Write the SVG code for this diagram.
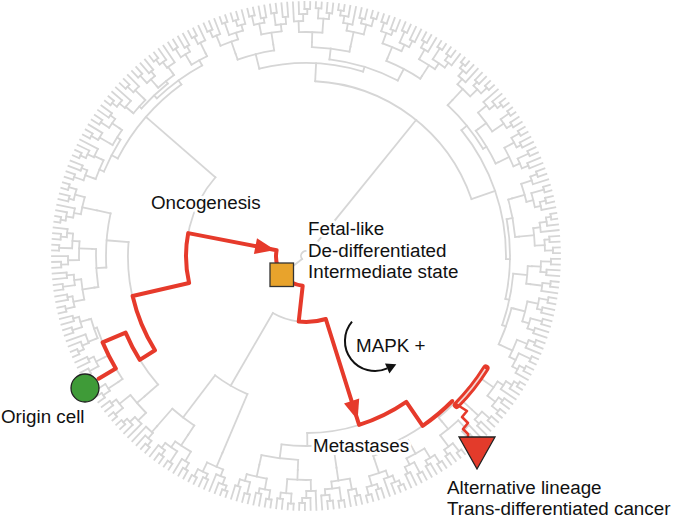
<svg xmlns="http://www.w3.org/2000/svg" width="675" height="518" viewBox="0 0 675 518">
<style>
.tree{fill:none;stroke:#d6d6d6;stroke-width:1.8;stroke-linecap:square}
.red{fill:none;stroke:#e63a2b;stroke-width:4;stroke-linejoin:round;stroke-linecap:round}
.redf{fill:#e63a2b;stroke:none}
.lbl{font-family:"Liberation Sans",Arial,sans-serif;font-size:18.8px;fill:#111;paint-order:stroke;stroke:#fff;stroke-width:6px;stroke-linejoin:round}
</style>
<defs>
<g id="a8">
<path d="M246 0H254" transform="rotate(-4.55)"/><path d="M246 0H254" transform="rotate(-3.25)"/>
<path d="M242 0H254" transform="rotate(-1.95)"/><path d="M242 0H254" transform="rotate(-0.65)"/>
<path d="M245 0H254" transform="rotate(0.65)"/><path d="M245 0H254" transform="rotate(1.95)"/>
<path d="M240 0H254" transform="rotate(3.25)"/><path d="M240 0H254" transform="rotate(4.55)"/>
<path d="M237 0H246" transform="rotate(-3.9)"/><path d="M237 0H242" transform="rotate(-1.3)"/>
<path d="M233 0H245" transform="rotate(1.3)"/><path d="M233 0H240" transform="rotate(3.9)"/>
<path d="M226 0H237" transform="rotate(-2.6)"/><path d="M226 0H233" transform="rotate(2.6)"/>
<path d="M214 0H226"/>
<circle r="246" pathLength="360" stroke-dasharray="1.3 360" transform="rotate(-4.55)"/>
<circle r="242" pathLength="360" stroke-dasharray="1.3 360" transform="rotate(-1.95)"/>
<circle r="237" pathLength="360" stroke-dasharray="2.6 360" transform="rotate(-3.9)"/>
<circle r="245" pathLength="360" stroke-dasharray="1.3 360" transform="rotate(0.65)"/>
<circle r="240" pathLength="360" stroke-dasharray="1.3 360" transform="rotate(3.25)"/>
<circle r="233" pathLength="360" stroke-dasharray="2.6 360" transform="rotate(1.3)"/>
<circle r="226" pathLength="360" stroke-dasharray="5.2 360" transform="rotate(-2.6)"/>
</g>
<g id="b8">
<path d="M248 0H254" transform="rotate(-4.55)"/><path d="M248 0H254" transform="rotate(-3.25)"/>
<path d="M243 0H254" transform="rotate(-1.95)"/><path d="M236 0H254" transform="rotate(-0.65)"/>
<path d="M244 0H254" transform="rotate(0.65)"/><path d="M244 0H254" transform="rotate(1.95)"/>
<path d="M247 0H254" transform="rotate(3.25)"/><path d="M247 0H254" transform="rotate(4.55)"/>
<path d="M243 0H248" transform="rotate(-3.9)"/><path d="M236 0H243" transform="rotate(-2.925)"/>
<path d="M239 0H244" transform="rotate(1.3)"/><path d="M239 0H247" transform="rotate(3.9)"/>
<path d="M229 0H236" transform="rotate(-1.79)"/><path d="M229 0H239" transform="rotate(2.6)"/>
<path d="M214 0H229"/>
<circle r="248" pathLength="360" stroke-dasharray="1.3 360" transform="rotate(-4.55)"/>
<circle r="243" pathLength="360" stroke-dasharray="1.95 360" transform="rotate(-3.9)"/>
<circle r="236" pathLength="360" stroke-dasharray="2.275 360" transform="rotate(-2.925)"/>
<circle r="244" pathLength="360" stroke-dasharray="1.3 360" transform="rotate(0.65)"/>
<circle r="247" pathLength="360" stroke-dasharray="1.3 360" transform="rotate(3.25)"/>
<circle r="239" pathLength="360" stroke-dasharray="2.6 360" transform="rotate(1.3)"/>
<circle r="229" pathLength="360" stroke-dasharray="4.39 360" transform="rotate(-1.79)"/>
</g>
<g id="c8">
<path d="M245 0H254" transform="rotate(-4.55)"/><path d="M245 0H254" transform="rotate(-3.25)"/>
<path d="M238 0H254" transform="rotate(-1.95)"/><path d="M247 0H254" transform="rotate(-0.65)"/>
<path d="M247 0H254" transform="rotate(0.65)"/><path d="M246 0H254" transform="rotate(1.95)"/>
<path d="M246 0H254" transform="rotate(3.25)"/><path d="M240 0H254" transform="rotate(4.55)"/>
<path d="M238 0H245" transform="rotate(-3.9)"/><path d="M234 0H247"/>
<path d="M240 0H246" transform="rotate(2.6)"/><path d="M234 0H240" transform="rotate(3.575)"/>
<path d="M227 0H238" transform="rotate(-2.925)"/><path d="M227 0H234" transform="rotate(1.79)"/>
<path d="M214 0H227"/>
<circle r="245" pathLength="360" stroke-dasharray="1.3 360" transform="rotate(-4.55)"/>
<circle r="238" pathLength="360" stroke-dasharray="1.95 360" transform="rotate(-3.9)"/>
<circle r="247" pathLength="360" stroke-dasharray="1.3 360" transform="rotate(-0.65)"/>
<circle r="246" pathLength="360" stroke-dasharray="1.3 360" transform="rotate(1.95)"/>
<circle r="240" pathLength="360" stroke-dasharray="1.95 360" transform="rotate(2.6)"/>
<circle r="234" pathLength="360" stroke-dasharray="3.575 360"/>
<circle r="227" pathLength="360" stroke-dasharray="4.715 360" transform="rotate(-2.925)"/>
</g>
<g id="d8">
<path d="M235 0H254" transform="rotate(-4.55)"/><path d="M242 0H254" transform="rotate(-3.25)"/>
<path d="M247 0H254" transform="rotate(-1.95)"/><path d="M247 0H254" transform="rotate(-0.65)"/>
<path d="M248 0H254" transform="rotate(0.65)"/><path d="M248 0H254" transform="rotate(1.95)"/>
<path d="M244 0H254" transform="rotate(3.25)"/><path d="M244 0H254" transform="rotate(4.55)"/>
<path d="M242 0H247" transform="rotate(-1.3)"/><path d="M235 0H242" transform="rotate(-2.275)"/>
<path d="M238 0H248" transform="rotate(1.3)"/><path d="M238 0H244" transform="rotate(3.9)"/>
<path d="M224 0H235" transform="rotate(-3.41)"/><path d="M224 0H238" transform="rotate(2.6)"/>
<path d="M214 0H224"/>
<circle r="247" pathLength="360" stroke-dasharray="1.3 360" transform="rotate(-1.95)"/>
<circle r="242" pathLength="360" stroke-dasharray="1.95 360" transform="rotate(-3.25)"/>
<circle r="235" pathLength="360" stroke-dasharray="2.275 360" transform="rotate(-4.55)"/>
<circle r="248" pathLength="360" stroke-dasharray="1.3 360" transform="rotate(0.65)"/>
<circle r="244" pathLength="360" stroke-dasharray="1.3 360" transform="rotate(3.25)"/>
<circle r="238" pathLength="360" stroke-dasharray="2.6 360" transform="rotate(1.3)"/>
<circle r="224" pathLength="360" stroke-dasharray="6.01 360" transform="rotate(-3.41)"/>
</g>
<g id="a4">
<path d="M245 0H254" transform="rotate(-1.95)"/><path d="M245 0H254" transform="rotate(-0.65)"/>
<path d="M241 0H254" transform="rotate(0.65)"/><path d="M241 0H254" transform="rotate(1.95)"/>
<path d="M235 0H245" transform="rotate(-1.3)"/><path d="M235 0H241" transform="rotate(1.3)"/>
<path d="M226 0H235"/>
<circle r="245" pathLength="360" stroke-dasharray="1.3 360" transform="rotate(-1.95)"/>
<circle r="241" pathLength="360" stroke-dasharray="1.3 360" transform="rotate(0.65)"/>
<circle r="235" pathLength="360" stroke-dasharray="2.6 360" transform="rotate(-1.3)"/>
</g>
<g id="b4">
<path d="M247 0H254" transform="rotate(-1.95)"/><path d="M247 0H254" transform="rotate(-0.65)"/>
<path d="M241 0H254" transform="rotate(0.65)"/><path d="M234 0H254" transform="rotate(1.95)"/>
<path d="M241 0H247" transform="rotate(-1.3)"/><path d="M234 0H241" transform="rotate(-0.325)"/>
<path d="M226 0H234"/>
<circle r="247" pathLength="360" stroke-dasharray="1.3 360" transform="rotate(-1.95)"/>
<circle r="241" pathLength="360" stroke-dasharray="1.95 360" transform="rotate(-1.3)"/>
<circle r="234" pathLength="360" stroke-dasharray="2.275 360" transform="rotate(-0.325)"/>
</g>
<g id="a3">
<path d="M246 0H254" transform="rotate(-1.3)"/><path d="M246 0H254"/>
<path d="M238 0H254" transform="rotate(1.3)"/>
<path d="M238 0H246" transform="rotate(-0.65)"/><path d="M226 0H238"/>
<circle r="246" pathLength="360" stroke-dasharray="1.3 360" transform="rotate(-1.3)"/>
<circle r="238" pathLength="360" stroke-dasharray="1.95 360" transform="rotate(-0.65)"/>
</g>
</defs>
<rect width="675" height="518" fill="#fff"/>
<g id="tree" class="tree" transform="translate(306 256)">
<circle r="5" pathLength="360" stroke-dasharray="167 360" transform="rotate(142)"/>
<path d="M5 0H30" transform="rotate(142)"/>
<path d="M5 0H175" transform="rotate(309)"/>
<circle r="30" pathLength="360" stroke-dasharray="94.65 360" transform="rotate(96.35)"/>
<path d="M30 0H66" transform="rotate(96.35)"/>
<circle r="66" pathLength="360" stroke-dasharray="47.6 360" transform="rotate(72.55)"/>
<path d="M66 0H177" transform="rotate(72.55)"/>
<circle r="177" pathLength="360" stroke-dasharray="34.1 360" transform="rotate(55.5)"/>
<path d="M177 0H206" transform="rotate(55.5)"/>
<circle r="206" pathLength="360" stroke-dasharray="21.45 360" transform="rotate(44.75)"/>
<path d="M206 0H211" transform="rotate(66.2)"/>
<circle r="211" pathLength="360" stroke-dasharray="10.4 360" transform="rotate(61)"/>
<path d="M211 0H214" transform="rotate(61)"/><path d="M211 0H214" transform="rotate(71.4)"/>
<path d="M206 0H209" transform="rotate(44.75)"/>
<circle r="209" pathLength="360" stroke-dasharray="11.7 360" transform="rotate(38.9)"/>
<path d="M209 0H214" transform="rotate(50.6)"/>
<path d="M209 0H212" transform="rotate(38.9)"/>
<circle r="212" pathLength="360" stroke-dasharray="7.8 360" transform="rotate(35)"/>
<path d="M212 0H214" transform="rotate(35)"/><path d="M212 0H226" transform="rotate(42.8)"/>
<path d="M177 0H190" transform="rotate(89.6)"/>
<circle r="190" pathLength="360" stroke-dasharray="15.6 360" transform="rotate(81.8)"/>
<path d="M190 0H214" transform="rotate(81.8)"/>
<path d="M190 0H204" transform="rotate(97.4)"/>
<circle r="204" pathLength="360" stroke-dasharray="10.4 360" transform="rotate(92.2)"/>
<path d="M204 0H214" transform="rotate(92.2)"/><path d="M204 0H214" transform="rotate(102.6)"/>
<path d="M66 0H150" transform="rotate(120.15)"/>
<circle r="150" pathLength="360" stroke-dasharray="14.3 360" transform="rotate(113)"/>
<path d="M150 0H214" transform="rotate(113)"/>
<path d="M150 0H203" transform="rotate(127.3)"/>
<circle r="203" pathLength="360" stroke-dasharray="7.8 360" transform="rotate(123.4)"/>
<path d="M203 0H214" transform="rotate(123.4)"/><path d="M203 0H226" transform="rotate(131.2)"/>
<path d="M30 0H120" transform="rotate(191)"/>
<circle r="120" pathLength="360" stroke-dasharray="54 360" transform="rotate(167)"/>
<path d="M120 0H178" transform="rotate(167)"/>
<circle r="178" pathLength="360" stroke-dasharray="36.5 360" transform="rotate(148)"/>
<path d="M178 0H196" transform="rotate(148)"/>
<circle r="196" pathLength="360" stroke-dasharray="18 360" transform="rotate(139)"/>
<path d="M196 0H214" transform="rotate(139)"/>
<path d="M196 0H221" transform="rotate(157)"/>
<circle r="221" pathLength="360" stroke-dasharray="14.95 360" transform="rotate(146.15)"/>
<path d="M221 0H226" transform="rotate(146.15)"/><path d="M221 0H254" transform="rotate(149.4)"/>
<path d="M221 0H226" transform="rotate(153.3)"/><path d="M221 0H224" transform="rotate(161.1)"/>
<circle r="224" pathLength="360" stroke-dasharray="5.2 360" transform="rotate(158.5)"/>
<path d="M224 0H226" transform="rotate(158.5)"/><path d="M224 0H226" transform="rotate(163.7)"/>
<path d="M178 0H200" transform="rotate(184.5)"/>
<circle r="200" pathLength="360" stroke-dasharray="15.6 360" transform="rotate(176.7)"/>
<path d="M200 0H210" transform="rotate(176.7)"/>
<circle r="210" pathLength="360" stroke-dasharray="10.4 360" transform="rotate(171.5)"/>
<path d="M210 0H214" transform="rotate(171.5)"/><path d="M210 0H214" transform="rotate(181.9)"/>
<path d="M200 0H214" transform="rotate(192.3)"/>
<path d="M120 0H212" transform="rotate(221)"/>
<circle r="212" pathLength="360" stroke-dasharray="26.6 360" transform="rotate(207.4)"/>
<path d="M212 0H219" transform="rotate(207.4)"/>
<circle r="219" pathLength="360" stroke-dasharray="9.4 360" transform="rotate(202.7)"/>
<path d="M219 0H224" transform="rotate(202.7)"/>
<circle r="224" pathLength="360" stroke-dasharray="5.2 360" transform="rotate(200.1)"/>
<path d="M224 0H226" transform="rotate(200.1)"/><path d="M224 0H226" transform="rotate(205.3)"/>
<path d="M219 0H223" transform="rotate(212.1)"/>
<circle r="223" pathLength="360" stroke-dasharray="4.55 360" transform="rotate(209.85)"/>
<path d="M223 0H226" transform="rotate(209.85)"/><path d="M223 0H226" transform="rotate(214.4)"/>
<path d="M212 0H217" transform="rotate(234)"/>
<circle r="217" pathLength="360" stroke-dasharray="14.8 360" transform="rotate(226.6)"/>
<path d="M217 0H221" transform="rotate(226.6)"/>
<circle r="221" pathLength="360" stroke-dasharray="9.4 360" transform="rotate(221.9)"/>
<path d="M221 0H224" transform="rotate(221.9)"/>
<circle r="224" pathLength="360" stroke-dasharray="4.55 360" transform="rotate(219.6)"/>
<path d="M224 0H226" transform="rotate(219.6)"/><path d="M224 0H226" transform="rotate(224.15)"/>
<path d="M221 0H224" transform="rotate(231.3)"/>
<circle r="224" pathLength="360" stroke-dasharray="5.2 360" transform="rotate(228.7)"/>
<path d="M224 0H226" transform="rotate(228.7)"/><path d="M224 0H226" transform="rotate(233.9)"/>
<path d="M217 0H223" transform="rotate(241.4)"/>
<circle r="223" pathLength="360" stroke-dasharray="4.55 360" transform="rotate(239.1)"/>
<path d="M223 0H226" transform="rotate(239.1)"/><path d="M223 0H226" transform="rotate(243.65)"/>
<circle r="175" pathLength="360" stroke-dasharray="68 360" transform="rotate(273)"/>
<path d="M175 0H193" transform="rotate(273)"/>
<circle r="193" pathLength="360" stroke-dasharray="31.2 360" transform="rotate(256)"/>
<path d="M193 0H208" transform="rotate(256)"/>
<circle r="208" pathLength="360" stroke-dasharray="10.4 360" transform="rotate(250.8)"/>
<path d="M208 0H214" transform="rotate(250.8)"/><path d="M208 0H214" transform="rotate(261.2)"/>
<path d="M193 0H198" transform="rotate(287.2)"/>
<circle r="198" pathLength="360" stroke-dasharray="20.8 360" transform="rotate(276.8)"/>
<path d="M198 0H209" transform="rotate(276.8)"/>
<circle r="209" pathLength="360" stroke-dasharray="10.4 360" transform="rotate(271.6)"/>
<path d="M209 0H214" transform="rotate(271.6)"/><path d="M209 0H214" transform="rotate(282)"/>
<path d="M198 0H211" transform="rotate(297.6)"/>
<circle r="211" pathLength="360" stroke-dasharray="10.4 360" transform="rotate(292.4)"/>
<path d="M211 0H214" transform="rotate(292.4)"/><path d="M211 0H214" transform="rotate(302.8)"/>
<path d="M175 0H200" transform="rotate(341)"/>
<circle r="200" pathLength="360" stroke-dasharray="39.9 360" transform="rotate(321)"/>
<path d="M200 0H207" transform="rotate(321)"/>
<circle r="207" pathLength="360" stroke-dasharray="15.6 360" transform="rotate(313.2)"/>
<path d="M207 0H214" transform="rotate(313.2)"/>
<path d="M207 0H211" transform="rotate(328.8)"/>
<circle r="211" pathLength="360" stroke-dasharray="10.4 360" transform="rotate(323.6)"/>
<path d="M211 0H214" transform="rotate(323.6)"/><path d="M211 0H214" transform="rotate(334)"/>
<path d="M200 0H204" transform="rotate(360.9)"/>
<circle r="204" pathLength="360" stroke-dasharray="22.55 360" transform="rotate(349.6)"/>
<path d="M204 0H210" transform="rotate(349.6)"/>
<circle r="210" pathLength="360" stroke-dasharray="10.4 360" transform="rotate(344.4)"/>
<path d="M210 0H214" transform="rotate(344.4)"/><path d="M210 0H214" transform="rotate(354.8)"/>
<path d="M204 0H208" transform="rotate(372.15)"/>
<circle r="208" pathLength="360" stroke-dasharray="14.5 360" transform="rotate(364.9)"/>
<path d="M208 0H222" transform="rotate(364.9)"/>
<circle r="222" pathLength="360" stroke-dasharray="4.55 360" transform="rotate(362.6)"/>
<path d="M222 0H226" transform="rotate(362.6)"/><path d="M222 0H226" transform="rotate(367.15)"/>
<path d="M208 0H212" transform="rotate(379.4)"/>
<circle r="212" pathLength="360" stroke-dasharray="10.4 360" transform="rotate(374.2)"/>
<path d="M212 0H214" transform="rotate(374.2)"/><path d="M212 0H214" transform="rotate(384.6)"/>
<use href="#a8" transform="rotate(14.2)"/><use href="#c8" transform="rotate(24.6)"/>
<use href="#b8" transform="rotate(35)"/><use href="#a4" transform="rotate(42.8)"/>
<use href="#d8" transform="rotate(50.6)"/><use href="#a8" transform="rotate(61)"/>
<use href="#b8" transform="rotate(71.4)"/><use href="#c8" transform="rotate(81.8)"/>
<use href="#d8" transform="rotate(92.2)"/><use href="#a8" transform="rotate(102.6)"/>
<use href="#b8" transform="rotate(113)"/><use href="#c8" transform="rotate(123.4)"/>
<use href="#b4" transform="rotate(131.2)"/>
<use href="#d8" transform="rotate(139)"/><use href="#a3" transform="rotate(146.15)"/>
<use href="#a4" transform="rotate(153.3)"/><use href="#b4" transform="rotate(158.5)"/>
<use href="#a4" transform="rotate(163.7)"/><use href="#a8" transform="rotate(171.5)"/>
<use href="#c8" transform="rotate(181.9)"/><use href="#b8" transform="rotate(192.3)"/>
<use href="#a4" transform="rotate(200.1)"/><use href="#b4" transform="rotate(205.3)"/>
<use href="#a3" transform="rotate(209.85)"/><use href="#a4" transform="rotate(214.4)"/>
<use href="#b4" transform="rotate(219.6)"/><use href="#a3" transform="rotate(224.15)"/>
<use href="#a4" transform="rotate(228.7)"/><use href="#b4" transform="rotate(233.9)"/>
<use href="#a4" transform="rotate(239.1)"/><use href="#a3" transform="rotate(243.65)"/>
<use href="#c8" transform="rotate(250.8)"/><use href="#a8" transform="rotate(261.2)"/>
<use href="#d8" transform="rotate(271.6)"/><use href="#b8" transform="rotate(282)"/>
<use href="#a8" transform="rotate(292.4)"/><use href="#c8" transform="rotate(302.8)"/>
<use href="#b8" transform="rotate(313.2)"/><use href="#d8" transform="rotate(323.6)"/>
<use href="#a8" transform="rotate(334)"/><use href="#c8" transform="rotate(344.4)"/>
<use href="#b8" transform="rotate(354.8)"/><use href="#a4" transform="rotate(362.6)"/>
<use href="#a3" transform="rotate(367.15)"/>
</g>
<g id="connectors">
<path class="red" d="M98.6 378.7L115.8 368.5A221 221 0 0 1 102.6 342.4L125.6 332.6A196 196 0 0 0 139.8 359.9L155 350.3A178 178 0 0 1 132.6 296L189.1 283A120 120 0 0 1 188.2 233.1L276.6 250.3A30 30 0 0 0 282.4 274.5"/>
<polygon class="redf" points="275.1,250 253.9,254 257,238.3"/>
<path class="red" d="M282.4 274.5A30 30 0 0 0 302.7 285.8L298.7 321.6A66 66 0 0 0 325.8 319L359.1 424.9A177 177 0 0 0 406.3 401.9L422.7 425.8A206 206 0 0 0 452.3 401"/>
<polygon class="redf" points="357.6,420.1 344,403.4 359.2,398.6"/>
<path d="M456.6 405.2A212 212 0 0 0 485.8 368.3" fill="none" stroke="#e63a2b" stroke-width="7.5" stroke-linecap="round"/>
<path d="M457.5 404.2A212 212 0 0 0 485.3 369" fill="none" stroke="#f4d6d2" stroke-width="1.6"/>
<path d="M456 404L467 411L462 417L468 423L463 429L468 434L468 440" fill="none" stroke="#e63a2b" stroke-width="2.6" stroke-linejoin="round"/>
<path d="M352 321.7A30 30 0 0 0 387.2 368.4" fill="none" stroke="#111" stroke-width="2"/>
<polygon points="396.3,364.3 389.4,373.4 385,363.4" fill="#111"/>
</g>
<g id="node-origin">
<circle cx="85" cy="388" r="14" fill="#3f9b38" stroke="#222" stroke-width="1.3"/>
<text class="lbl" x="1" y="423">Origin cell</text>
</g>
<g id="node-intermediate">
<rect x="270" y="263" width="23.5" height="23.5" fill="#e8a32c" stroke="#333" stroke-width="1.3"/>
<text class="lbl" x="308" y="235">Fetal-like</text>
<text class="lbl" x="308" y="256.5">De-differentiated</text>
<text class="lbl" x="308" y="278">Intermediate state</text>
</g>
<g id="node-alternative">
<polygon points="459,437 495,437 477,469" fill="#e33b2b" stroke="#222" stroke-width="1.3"/>
<text class="lbl" x="447" y="494">Alternative lineage</text>
<text class="lbl" x="447" y="515">Trans-differentiated cancer</text>
</g>
<g id="labels">
<text class="lbl" x="151" y="209">Oncogenesis</text>
<text class="lbl" x="356" y="352">MAPK +</text>
<text class="lbl" x="313" y="452">Metastases</text>
</g>
</svg>
